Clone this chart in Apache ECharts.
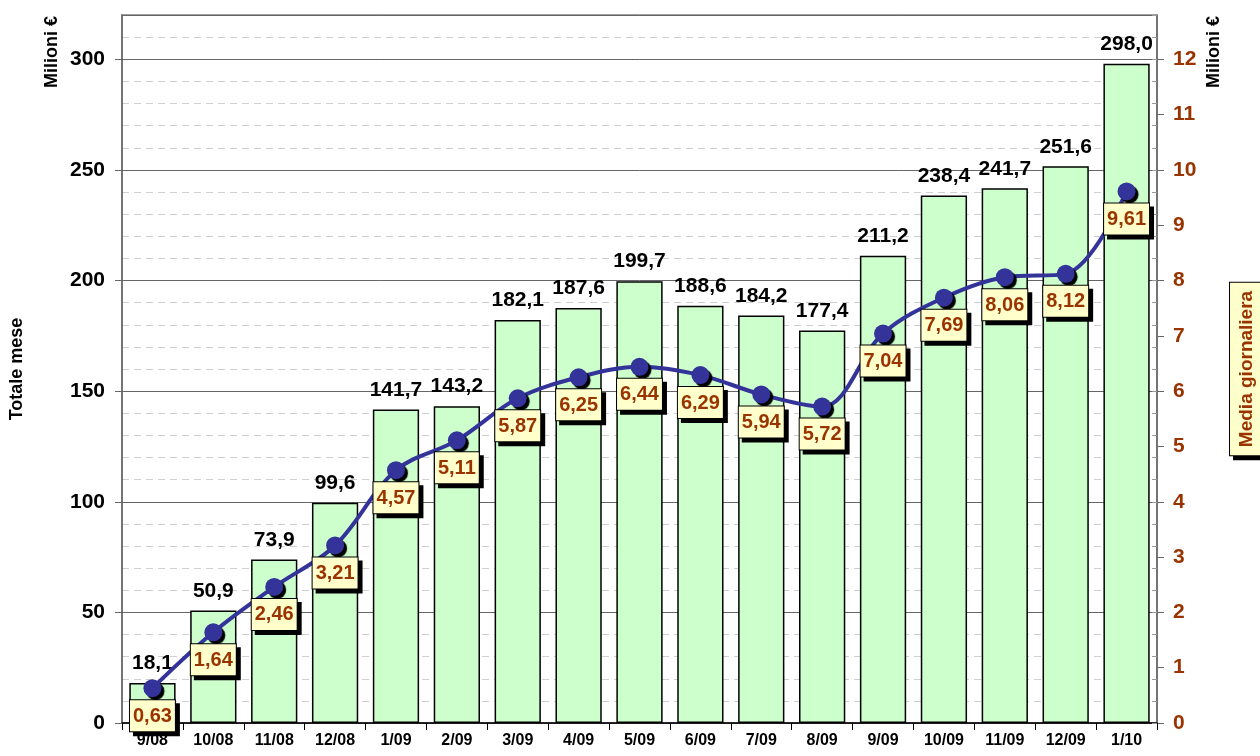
<!DOCTYPE html>
<html>
<head>
<meta charset="utf-8">
<script src="https://cdn.jsdelivr.net/npm/echarts@6/dist/echarts.min.js"></script>
<style>
  html, body { margin: 0; padding: 0; background: #fff; }
  #chart { width: 1260px; height: 756px; }
</style>
</head>
<body>
<div id="chart"></div>
<script>
// dati
const mesi = ['9/08', '10/08', '11/08', '12/08', '1/09', '2/09', '3/09', '4/09', '5/09',
  '6/09', '7/09', '8/09', '9/09', '10/09', '11/09', '12/09', '1/10'];
const totaleMese = [18.1, 50.9, 73.9, 99.6, 141.7, 143.2, 182.1, 187.6, 199.7,
  188.6, 184.2, 177.4, 211.2, 238.4, 241.7, 251.6, 298.0];
const mediaGiornaliera = [0.63, 1.64, 2.46, 3.21, 4.57, 5.11, 5.87, 6.25, 6.44,
  6.29, 5.94, 5.72, 7.04, 7.69, 8.06, 8.12, 9.61];

const FONT = 'Arial, "Liberation Sans", sans-serif';
const chart = echarts.init(document.getElementById('chart'));

const fmt = (v, d) => v.toFixed(d).replace('.', ',');

const option = {
  animation: false,
  grid: {
    left: 122, right: 103, top: 15, bottom: 33,
    outerBoundsMode: 'none',
    show: true, borderColor: '#808080', borderWidth: 1.5
  },
  xAxis: {
    type: 'category',
    data: mesi,
    axisLine: { lineStyle: { color: '#000', width: 1.5 } },
    axisTick: { show: true, length: 7, lineStyle: { color: '#000', width: 1 } },
    axisLabel: { color: '#000', fontFamily: FONT, fontWeight: 'bold', fontSize: 16, margin: 10 }
  },
  yAxis: [
    {
      type: 'value', position: 'left', min: 0, max: 320, interval: 50,
      name: 'Totale mese', nameLocation: 'middle', nameRotate: 90, nameGap: 96,
      nameTextStyle: { color: '#000', fontFamily: FONT, fontWeight: 'bold', fontSize: 18 },
      axisLine: { show: true, lineStyle: { color: '#666', width: 1.5 } },
      axisTick: { show: true, length: 7, lineStyle: { color: '#666' } },
      axisLabel: { showMaxLabel: false, color: '#000', fontFamily: FONT, fontWeight: 'bold', fontSize: 21, margin: 17 },
      splitLine: { show: true, lineStyle: { color: '#666', width: 1 } }
    },
    {
      type: 'value', position: 'right', min: 0, max: 12.8, interval: 1,
      name: 'Media giornaliera', nameLocation: 'middle', nameRotate: 90, nameGap: 73,
      nameTextStyle: {
        color: '#993300', fontFamily: FONT, fontWeight: 'bold', fontSize: 19,
        backgroundColor: '#FFFFCC', borderColor: '#000', borderWidth: 1,
        padding: [7, 8, 5, 8],
        shadowColor: '#000', shadowOffsetX: 4, shadowOffsetY: 4, shadowBlur: 0
      },
      axisLine: { show: true, lineStyle: { color: '#666', width: 1.5 } },
      axisTick: { show: true, length: 7, lineStyle: { color: '#666' } },
      axisLabel: { showMaxLabel: false, color: '#993300', fontFamily: FONT, fontWeight: 'bold', fontSize: 21, margin: 16 },
      splitLine: { show: false }
    },
    {
      // griglia secondaria tratteggiata
      type: 'value', position: 'left', min: 0, max: 320, interval: 10, z: -1,
      axisLine: { show: false }, axisTick: { show: false }, axisLabel: { show: false },
      splitLine: { show: true, lineStyle: { color: '#cfcfcf', type: [7, 5], width: 1 } }
    },
    {
      // tacche minori asse destro
      type: 'value', position: 'right', min: 0, max: 12.8, interval: 0.4,
      axisLine: { show: false }, axisLabel: { show: false },
      axisTick: { show: true, inside: true, length: 5, lineStyle: { color: '#999' } },
      splitLine: { show: false }
    }
  ],
  graphic: [
    {
      type: 'text', x: 52, y: 52, rotation: Math.PI / 2,
      style: {
        text: 'Milioni €', fill: '#000', font: 'bold 18px ' + FONT,
        align: 'center', verticalAlign: 'middle', textAlign: 'center', textVerticalAlign: 'middle'
      }
    },
    {
      type: 'text', x: 1214, y: 52, rotation: Math.PI / 2,
      style: {
        text: 'Milioni €', fill: '#000', font: 'bold 18px ' + FONT,
        align: 'center', verticalAlign: 'middle', textAlign: 'center', textVerticalAlign: 'middle'
      }
    }
  ],
  series: [
    {
      name: 'Totale mese',
      type: 'bar',
      yAxisIndex: 0,
      data: totaleMese,
      barCategoryGap: '24%',
      itemStyle: { color: '#CCFFCC', borderColor: '#000', borderWidth: 1.5 },
      label: {
        show: true, position: 'top', distance: 9,
        color: '#000', fontFamily: FONT, fontWeight: 'bold', fontSize: 21,
        formatter: p => fmt(p.value, 1)
      }
    },
    {
      name: 'Media giornaliera',
      type: 'line',
      yAxisIndex: 1,
      data: mediaGiornaliera,
      smooth: 0.35,
      symbol: 'circle',
      symbolSize: 18,
      lineStyle: { color: '#333399', width: 4 },
      itemStyle: {
        color: '#333399',
        shadowColor: '#000', shadowOffsetX: 3, shadowOffsetY: 3, shadowBlur: 1
      },
      label: {
        show: true, position: 'bottom', distance: 3,
        color: '#993300', fontFamily: FONT, fontWeight: 'bold', fontSize: 20,
        backgroundColor: '#FFFFCC', borderColor: '#000', borderWidth: 1,
        padding: [6, 3, 5, 3],
        shadowColor: '#000', shadowOffsetX: 4, shadowOffsetY: 4, shadowBlur: 0,
        formatter: p => fmt(p.value, 2)
      },
      z: 3
    }
  ]
};

chart.setOption(option);
</script>
</body>
</html>
